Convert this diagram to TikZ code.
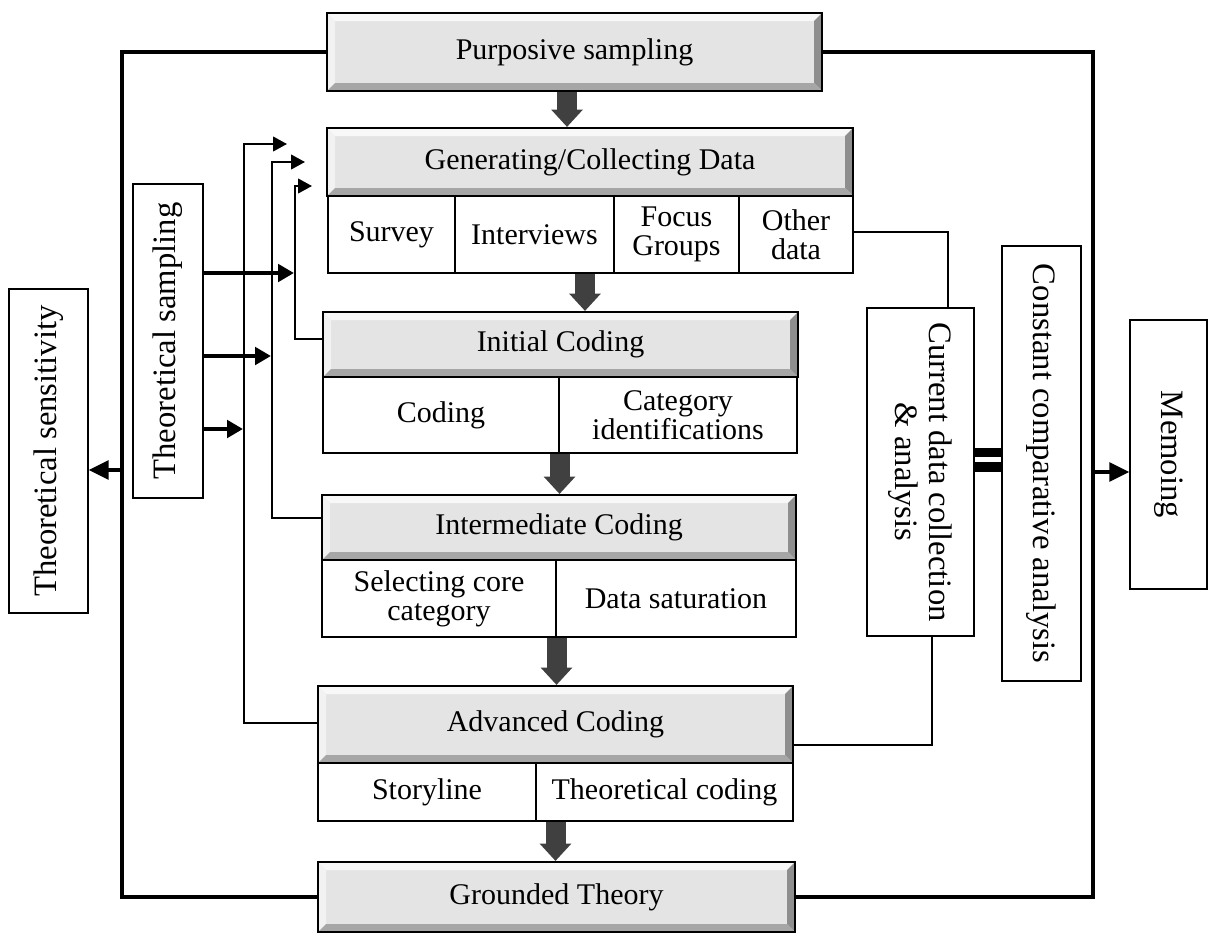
\documentclass[tikz,border=0pt]{standalone}
\usepackage{fontspec}
\setmainfont{Liberation Serif}
\usetikzlibrary{arrows.meta,calc}
\definecolor{darkarrow}{HTML}{404040}
\definecolor{headfill}{HTML}{E4E4E4}
\definecolor{bevtop}{HTML}{F8F8F8}
\definecolor{bevleft}{HTML}{F2F2F2}
\definecolor{bevright}{HTML}{8E8E8E}
\definecolor{bevbot}{HTML}{A6A6A6}
\newcommand{\hfont}{\fontsize{22.5}{21.5}\selectfont}
\newcommand{\vfont}{\fontsize{24.5}{25.5}\selectfont}
\begin{document}
\begin{tikzpicture}[x=0.75pt,y=-0.75pt,
  hdr/.style={draw=black, line width=1.6pt, fill=headfill, inner sep=0pt, font=\hfont,
    path picture={
      \coordinate (ppnw) at (path picture bounding box.north west);
      \coordinate (ppne) at (path picture bounding box.north east);
      \coordinate (ppsw) at (path picture bounding box.south west);
      \coordinate (ppse) at (path picture bounding box.south east);
      \fill[bevtop] (ppnw) -- (ppne) -- ([shift={(-6pt,-6pt)}]ppne) -- ([shift={(6pt,-6pt)}]ppnw) -- cycle;
      \fill[bevleft] (ppnw) -- ([shift={(6pt,-6pt)}]ppnw) -- ([shift={(6pt,6pt)}]ppsw) -- (ppsw) -- cycle;
      \fill[bevright] (ppne) -- ([shift={(-6pt,-6pt)}]ppne) -- ([shift={(-6pt,6pt)}]ppse) -- (ppse) -- cycle;
      \fill[bevbot] (ppsw) -- ([shift={(6pt,6pt)}]ppsw) -- ([shift={(-6pt,6pt)}]ppse) -- (ppse) -- cycle;
    }},
  sub/.style={draw=black, line width=0.8pt, fill=white, inner sep=0pt, align=center, font=\hfont},
  side/.style={draw=black, line width=1pt, fill=white, inner sep=0pt, align=center, font=\vfont},
  blk/.style={draw=darkarrow, line width=15pt, -{Triangle[length=13pt,width=23pt]}},
  frame/.style={draw=black, line width=3pt},
  fbk/.style={draw=black, line width=1.6pt, -{Triangle[length=10.5pt,width=11pt]}},
  thk/.style={draw=black, line width=3pt, -{Triangle[length=12pt,width=13pt]}},
  big/.style={draw=black, line width=3pt, -{Triangle[length=15pt,width=14pt]}},
  conn/.style={draw=black, line width=1.2pt}
]
\useasboundingbox (0,0) rectangle (1208,936);

% header boxes
\node[hdr, minimum width=371.25pt, minimum height=58.5pt] (purp) at (574.5,52) {Purposive sampling};
\node[hdr, minimum width=394.5pt, minimum height=51pt] (gen) at (590,162) {Generating/Collecting Data};
\node[sub, minimum width=95.25pt, minimum height=57.75pt] (survey) at (391.5,234.5) {Survey};
\node[sub, minimum width=119.25pt, minimum height=57.75pt] (interv) at (534.5,234.5) {Interviews};
\node[sub, minimum width=93.75pt, minimum height=57.75pt] (focus) at (676.5,234.5) {Focus\\Groups};
\node[sub, minimum width=85.5pt, minimum height=57.75pt] (other) at (796,234.5) {Other\\data};

\node[hdr, minimum width=356.25pt, minimum height=48.75pt] (init) at (560.5,344.5) {Initial Coding};
\node[sub, minimum width=177pt, minimum height=57pt] (icod) at (441,415) {Coding};
\node[sub, minimum width=178.5pt, minimum height=57pt] (icat) at (678,415) {Category\\identifications};

\node[hdr, minimum width=355.5pt, minimum height=48.75pt] (inter) at (559,527.5) {Intermediate Coding};
\node[sub, minimum width=175.5pt, minimum height=57.75pt] (isel) at (439,598.5) {Selecting core\\category};
\node[sub, minimum width=180pt, minimum height=57.75pt] (isat) at (676,598.5) {Data saturation};

\node[hdr, minimum width=356.25pt, minimum height=57.75pt] (adv) at (555.5,724.5) {Advanced Coding};
\node[sub, minimum width=163.5pt, minimum height=43.5pt] (story) at (427,792) {Storyline};
\node[sub, minimum width=192.75pt, minimum height=43.5pt] (theo) at (664.5,792) {Theoretical coding};

\node[hdr, minimum width=357.75pt, minimum height=52.5pt] (gt) at (556.5,897) {Grounded Theory};

% side boxes
\node[side, rotate=90, minimum width=243pt, minimum height=59.25pt] (tsens) at (48.5,451) {Theoretical sensitivity};
\node[side, rotate=90, minimum width=235.5pt, minimum height=52.5pt] (tsamp) at (168,341) {Theoretical sampling};
\node[side, rotate=-90, minimum width=246pt, minimum height=80.25pt] (cur) at (920.5,472) {Current data collection\\\& analysis};
\node[side, rotate=-90, minimum width=326.25pt, minimum height=59.25pt] (const) at (1041.5,463.5) {Constant comparative analysis};
\node[side, rotate=-90, minimum width=201.75pt, minimum height=57.75pt] (memo) at (1168.5,454.5) {Memoing};

% block arrows
\draw[blk] ([xshift=-5.6pt]purp.south) -- ([xshift=-5.6pt]purp.south |- gen.north);
\draw[blk] ([xshift=-3.75pt]gen.south |- interv.south) -- ([xshift=-3.75pt]gen.south |- init.north);
\draw[blk] (icod.south east) -- (icod.south east |- inter.north);
\draw[blk] (isel.south east) -- (isel.south east |- adv.north);
\draw[blk] (adv.center |- story.south) -- (adv.center |- gt.north);

% outer frame
\coordinate (LB) at (122,897);
\coordinate (RB) at (1093,897);
\draw[frame] (purp.west) -| (LB) -- (gt.west);
\draw[frame] (purp.east) -| (RB) -- (gt.east);
\coordinate (sensin) at (122,470);
\draw[big] (sensin) -- (sensin -| tsens.south);
\coordinate (memin) at (1093,472);
\draw[big] (memin) -- (memin -| memo.south);

% feedback lines
\coordinate (ta) at (244,144);
\coordinate (fa) at (287,144);
\coordinate (tb) at (272,162);
\coordinate (fb) at (305,162);
\coordinate (tc) at (295,186);
\coordinate (fc) at (312,186);
\draw[fbk] ([yshift=1pt]adv.west) -| (ta) -- (fa);
\draw[fbk] ([yshift=7pt]inter.west) -| (tb) -- (fb);
\draw[fbk] ([yshift=4pt]init.west) -| (tc) -- (fc);

% theoretical sampling arrows
\coordinate (ea) at (294,273);
\coordinate (eb) at (271,356);
\coordinate (ec) at (243,429);
\draw[thk] (ea -| tsamp.south) -- (ea);
\draw[thk] (eb -| tsamp.south) -- (eb);
\draw[thk] (ec -| tsamp.south) -- (ec);

% current data connectors
\draw[conn] ([yshift=1.9pt]other.east) -| ([xshift=20.6pt]cur.west);
\draw[conn] ([yshift=-15.4pt]adv.east) -| ([xshift=8.6pt]cur.east);

% double bar
\draw[line width=7pt] ([yshift=14.5pt]cur.north) -- ([yshift=14.5pt]cur.north -| const.south);
\draw[line width=7pt] ([yshift=3.75pt]cur.north) -- ([yshift=3.75pt]cur.north -| const.south);
\end{tikzpicture}
\end{document}
